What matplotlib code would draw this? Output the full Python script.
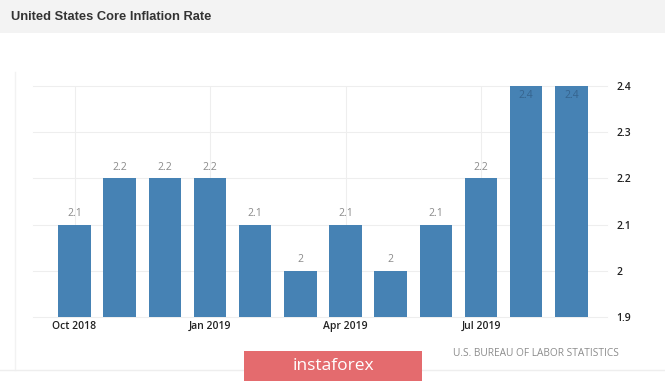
import matplotlib.pyplot as plt
from matplotlib.patches import Rectangle
from matplotlib.lines import Line2D

months = ['Oct 2018', 'Nov 2018', 'Dec 2018', 'Jan 2019', 'Feb 2019', 'Mar 2019',
          'Apr 2019', 'May 2019', 'Jun 2019', 'Jul 2019', 'Aug 2019', 'Sep 2019']
values = [2.1, 2.2, 2.2, 2.2, 2.1, 2.0, 2.1, 2.0, 2.1, 2.2, 2.4, 2.4]
value_labels = ['2.1', '2.2', '2.2', '2.2', '2.1', '2', '2.1', '2', '2.1', '2.2', '2.4', '2.4']
tick_months = ['Oct 2018', 'Jan 2019', 'Apr 2019', 'Jul 2019']
y_ticks = [1.9, 2.0, 2.1, 2.2, 2.3, 2.4]
y_tick_labels = ['1.9', '2', '2.1', '2.2', '2.3', '2.4']

W, H = 665, 382
fig = plt.figure(figsize=(W / 100, H / 100), dpi=100)
fig.patch.set_facecolor('white')

# header band
fig.patches.append(Rectangle((0, 1 - 33 / H), 1, 33 / H, transform=fig.transFigure,
                             facecolor='#f3f3f3', edgecolor='none', zorder=0))
fig.text(11 / W, 1 - 17 / H, 'United States Core Inflation Rate', fontsize=9.3,
         fontweight='bold', color='#333333', family='Liberation Sans',
         va='center', ha='left')

# faint card border
fig.lines.append(Line2D([15 / W, 15 / W], [1 - 72 / H, 1 - 370 / H], transform=fig.transFigure,
                        color='#f2f2f2', linewidth=1))
fig.lines.append(Line2D([0, 1], [1 - 370 / H, 1 - 370 / H], transform=fig.transFigure,
                        color='#eeeeee', linewidth=1))

left, right, top, bottom = 33, 607, 86, 317
ax = fig.add_axes([left / W, 1 - bottom / H, (right - left) / W, (bottom - top) / H])

x = list(range(len(values)))
ax.bar(x, values, width=0.72, color='#4682b4', zorder=3)
ax.set_ylim(1.9, 2.4)
ax.set_xlim(-0.92, 11.79)

for i, (v, lab) in enumerate(zip(values, value_labels)):
    if v >= 2.4:
        ax.annotate(lab, (i, v), xytext=(0, -3), textcoords='offset points', ha='center',
                    va='top', fontsize=7.5, color='#36648e', family='Open Sans',
                    zorder=5, annotation_clip=False)
    else:
        ax.annotate(lab, (i, v), xytext=(0, 4), textcoords='offset points', ha='center',
                    va='bottom', fontsize=7.5, color='#8a8a8a', family='Open Sans', zorder=4)

# grid
for yv in y_ticks:
    ax.axhline(yv, color='#eeeeee', linewidth=0.8, zorder=1, clip_on=False)
tick_pos = [months.index(m) for m in tick_months]
for p in tick_pos:
    ax.axvline(p, color='#eeeeee', linewidth=0.8, zorder=1)

ax.set_xticks(tick_pos)
ax.set_xticklabels(tick_months, fontsize=7.5, color='#222222', family='Open Sans',
                   fontweight='semibold')
ax.set_yticks(y_ticks)
ax.set_yticklabels(y_tick_labels, fontsize=7.5, color='#222222', family='Open Sans',
                   fontweight='semibold')
ax.yaxis.tick_right()
ax.tick_params(axis='x', length=0, pad=3)
ax.tick_params(axis='y', length=0, pad=7)
for s in ax.spines.values():
    s.set_visible(False)
ax.set_facecolor('white')

# source
fig.text(619 / W, 1 - 353 / H, 'U.S. BUREAU OF LABOR STATISTICS', fontsize=7.3,
         color='#8c8c8c', family='Open Sans', ha='right', va='center')

# watermark
fig.patches.append(Rectangle((244 / W, 1 - 381 / H), (422 - 244) / W, 30 / H,
                             transform=fig.transFigure, facecolor='#e46b6e',
                             edgecolor='none', zorder=5))
fig.text(333 / W, 1 - 366 / H, 'instaforex', fontsize=12.5, color='white',
         family='Open Sans', ha='center', va='center', zorder=6)

fig.savefig('out.png', dpi=100)
